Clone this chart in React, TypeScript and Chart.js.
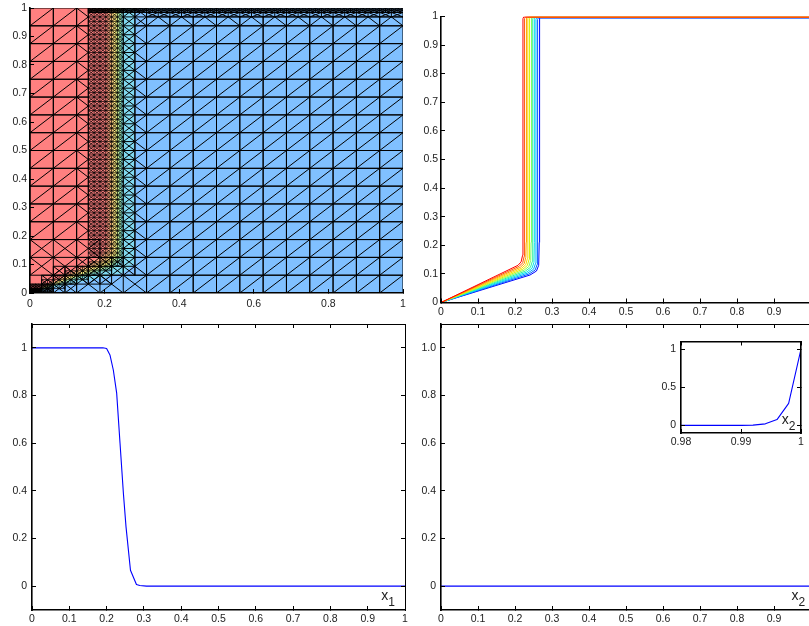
import React, { useEffect, useRef } from "react";
import { Chart, registerables } from "chart.js";

Chart.register(...registerables);

const FONT = "'Liberation Sans', Arial, sans-serif";

// ---- Axis ticks ----
const meshXTicks = [0, 0.2, 0.4, 0.6, 0.8, 1];
const meshXLabels = ["0", "0.2", "0.4", "0.6", "0.8", "1"];
const tenthTicks = [0, 0.1, 0.2, 0.3, 0.4, 0.5, 0.6, 0.7, 0.8, 0.9, 1];
const tenthLabels = ["0", "0.1", "0.2", "0.3", "0.4", "0.5", "0.6", "0.7", "0.8", "0.9", "1"];
const clippedXTicks = [0, 0.1, 0.2, 0.3, 0.4, 0.5, 0.6, 0.7, 0.8, 0.9];
const clippedXLabels = ["0", "0.1", "0.2", "0.3", "0.4", "0.5", "0.6", "0.7", "0.8", "0.9"];
const profileYTicks = [0, 0.2, 0.4, 0.6, 0.8, 1];
const profileYLabelsC = ["0", "0.2", "0.4", "0.6", "0.8", "1"];
const profileYLabelsD = ["0", "0.2", "0.4", "0.6", "0.8", "1.0"];
const insetXTicks = [0.98, 0.99, 1];
const insetXLabels = ["0.98", "0.99", "1"];
const insetYTicks = [0, 0.5, 1];
const insetYLabels = ["0", "0.5", "1"];

// ---- Profile along x1 ----
const profileX1 = [0, 0.19, 0.2, 0.209, 0.218, 0.227, 0.236, 0.245, 0.252, 0.264, 0.28, 0.289, 0.307, 1];
const profileU1 = [1, 1, 0.997, 0.97, 0.907, 0.81, 0.6, 0.39, 0.25, 0.067, 0.007, 0.003, 0, 0];

// ---- Profile along x2 ----
const profileX2 = [0, 1];
const profileU2 = [0, 0];
const insetX = [0.98, 0.99, 0.992, 0.99406, 0.996, 0.99794, 1];
const insetU = [0, 0, 0.003, 0.02, 0.076, 0.289, 1];

// ---- Level curves: one entry per level, red to blue ----
const levelColors = ["#ff0000", "#ff5a00", "#ffa000", "#ffd800", "#d8f000", "#80ff60", "#30f0a0", "#00e8e8", "#00b0ff", "#0060ff", "#0000ff"];
const levelLowX = [0.208, 0.2113, 0.2146, 0.2179, 0.2212, 0.2245, 0.2278, 0.2311, 0.2344, 0.2377, 0.2405];
const levelLowY = [0.13, 0.1266, 0.1232, 0.1198, 0.1164, 0.113, 0.1096, 0.1062, 0.1028, 0.0994, 0.096];
const levelBendX = [0.2165, 0.2207, 0.2249, 0.2291, 0.2333, 0.2375, 0.2417, 0.2459, 0.2501, 0.2543, 0.258];
const levelBendY = [0.142, 0.1388, 0.1356, 0.1324, 0.1292, 0.126, 0.1228, 0.1196, 0.1164, 0.1132, 0.11];
const levelShoulderX = [0.2205, 0.2249, 0.2293, 0.2337, 0.2381, 0.2425, 0.2469, 0.2513, 0.2557, 0.2601, 0.264];
const levelShoulderY = [0.165, 0.1615, 0.158, 0.1545, 0.151, 0.1475, 0.144, 0.1405, 0.137, 0.1335, 0.13];
const levelRiseX = [0.2215, 0.2259, 0.2303, 0.2347, 0.2391, 0.2435, 0.2479, 0.2523, 0.2567, 0.2611, 0.2655];
const levelTopY = [0.9985, 0.9985, 0.998, 0.998, 0.9975, 0.9975, 0.997, 0.9965, 0.996, 0.9955, 0.995];

// ---- Colour bands of the mesh panel, left to right ----
const bandColors = ["#ff8080", "#ff9a80", "#ffb880", "#ffd880", "#fff080", "#d0f090", "#a0e8b0", "#80e0d8", "#80d8f0", "#80c0ff"];
const bandRiseX = [0, 0.205, 0.212, 0.219, 0.226, 0.232, 0.238, 0.244, 0.25, 0.28];
const bandLowX = [0, 0.185, 0.192, 0.199, 0.205, 0.21, 0.216, 0.222, 0.228, 0.25];
const bandLowY = [1, 0.125, 0.119, 0.113, 0.107, 0.102, 0.097, 0.092, 0.087, 0.07];

// ---- Mesh ----
const coarseLines = [0, 0.0625, 0.125, 0.1875, 0.25, 0.3125, 0.375, 0.4375, 0.5, 0.5625, 0.625, 0.6875, 0.75, 0.8125, 0.875, 0.9375, 1];
// [x0, x1, y0, y1, cell width, cell height] — cells with both diagonals
const patchCoarseX = [
  [0, 0.125, 0.0625, 0.1875, 0.0625, 0.0625],
  [0.125, 0.1875, 0.125, 0.1875, 0.0625, 0.0625],
  [0.125, 0.3125, 0, 0.0625, 0.0625, 0.0625],
];
const patchMedium = [
  [0.25, 0.28125, 0.0625, 1, 0.03125, 0.03125],
  [0.28125, 0.3125, 0.9375, 1, 0.03125, 0.03125],
  [0.03125, 0.0625, 0, 0.0625, 0.03125, 0.03125],
  [0.0625, 0.09375, 0, 0.09375, 0.03125, 0.03125],
  [0.09375, 0.125, 0, 0.09375, 0.03125, 0.03125],
  [0.125, 0.15625, 0.03125, 0.125, 0.03125, 0.03125],
  [0.15625, 0.21875, 0.03125, 0.125, 0.03125, 0.03125],
  [0.21875, 0.25, 0.0625, 0.125, 0.03125, 0.03125],
  [0.3125, 1, 0.96875, 0.984375, 0.03125, 0.015625],
];
const patchFine = [
  [0.15625, 0.25, 0.125, 1, 0.015625, 0.015625],
  [0, 0.03125, 0, 0.03125, 0.015625, 0.015625],
  [0.03125, 0.0625, 0, 0.046875, 0.015625, 0.015625],
  [0.0625, 0.09375, 0.015625, 0.0625, 0.015625, 0.015625],
  [0.09375, 0.125, 0.03125, 0.078125, 0.015625, 0.015625],
  [0.125, 0.15625, 0.046875, 0.09375, 0.015625, 0.015625],
  [0.15625, 0.1875, 0.0625, 0.109375, 0.015625, 0.015625],
  [0.1875, 0.21875, 0.078125, 0.125, 0.015625, 0.015625],
  [0.21875, 0.25, 0.09375, 0.125, 0.015625, 0.015625],
];
const patchDense = [
  [0.25, 1, 0.984375, 1, 0.015625, 0.0078125],
  [0.15625, 0.25, 0.984375, 1, 0.015625, 0.0078125],
];
const patchUltra = [
  [0, 0.03125, 0, 0.015625, 0.00390625, 0.00390625],
  [0, 0.0625, 0, 0.03125, 0.0078125, 0.0078125],
];
// [coarse side x, fine side x, y0, y1] and [x0, x1, coarse side y, fine side y]
const fanColumns = [
  [0.125, 0.15625, 0.1875, 1],
  [0.3125, 0.28125, 0.0625, 0.9375],
];
const fanRows = [[0.3125, 1, 0.9375, 0.96875]];

type Pt = { x: number; y: number };
const gap: Pt = { x: NaN, y: NaN };
const seg = (o: Pt[], x0: number, y0: number, x1: number, y1: number) => {
  o.push({ x: x0, y: y0 }, { x: x1, y: y1 }, gap);
};
const cellsOf = (p: number[], o: Pt[]) => {
  const [x0, x1, y0, y1, hx, hy] = p;
  const nx = Math.round((x1 - x0) / hx);
  const ny = Math.round((y1 - y0) / hy);
  for (let i = 0; i < nx; i++) {
    for (let j = 0; j < ny; j++) {
      const a = x0 + i * hx, b = a + hx, c = y0 + j * hy, d = c + hy;
      seg(o, a, c, b, d);
      seg(o, a, d, b, c);
    }
  }
  for (let i = 0; i <= nx; i++) seg(o, x0 + i * hx, y0, x0 + i * hx, y1);
  for (let j = 0; j <= ny; j++) seg(o, x0, y0 + j * hy, x1, y0 + j * hy);
};
const buildCoarse = (): Pt[] => {
  const o: Pt[] = [];
  const masks = [
    ...patchCoarseX, ...patchMedium, ...patchFine,
    ...fanColumns.map((f) => [Math.min(f[0], f[1]), Math.max(f[0], f[1]), f[2], f[3]]),
    ...fanRows.map((f) => [f[0], f[1], f[2], f[3]]),
  ];
  for (let i = 0; i + 1 < coarseLines.length; i++) {
    for (let j = 0; j + 1 < coarseLines.length; j++) {
      const a = coarseLines[i], b = coarseLines[i + 1], c = coarseLines[j], d = coarseLines[j + 1];
      const hidden = masks.some((m) => a < m[1] - 1e-9 && b > m[0] + 1e-9 && c < m[3] - 1e-9 && d > m[2] + 1e-9);
      if (hidden) continue;
      seg(o, a, c, b, c); seg(o, a, d, b, d); seg(o, a, c, a, d); seg(o, b, c, b, d);
      seg(o, a, c, b, d);
    }
  }
  patchCoarseX.forEach((p) => cellsOf(p, o));
  fanColumns.forEach(([cx, fx, y0, y1]) => {
    seg(o, cx, y0, cx, y1);
    seg(o, fx, y0, fx, y1);
    coarseLines.filter((y) => y >= y0 && y < y1).forEach((y) => {
      seg(o, cx, y, fx, y + 0.03125);
      seg(o, fx, y + 0.03125, cx, y + 0.0625);
      seg(o, cx, y, fx, y);
      seg(o, cx, y + 0.0625, fx, y + 0.0625);
    });
  });
  fanRows.forEach(([x0, x1, cy, fy]) => {
    seg(o, x0, cy, x1, cy);
    seg(o, x0, fy, x1, fy);
    coarseLines.filter((x) => x >= x0 && x < x1).forEach((x) => {
      seg(o, x, cy, x + 0.03125, fy);
      seg(o, x + 0.03125, fy, x + 0.0625, cy);
      seg(o, x, cy, x, fy);
      seg(o, x + 0.0625, cy, x + 0.0625, fy);
    });
  });
  return o;
};
const buildPatches = (list: number[][]): Pt[] => {
  const o: Pt[] = [];
  list.forEach((p) => cellsOf(p, o));
  return o;
};

const zip = (xs: number[], ys: number[]): Pt[] => xs.map((x, i) => ({ x, y: ys[i] }));

const levelPath = (i: number): Pt[] => [
  { x: 0, y: 0 },
  { x: levelLowX[i], y: levelLowY[i] },
  { x: levelBendX[i], y: levelBendY[i] },
  { x: levelShoulderX[i], y: levelShoulderY[i] },
  { x: levelRiseX[i], y: 0.21 },
  { x: levelRiseX[i], y: levelTopY[i] - 0.006 },
  { x: levelRiseX[i] + 0.002, y: levelTopY[i] },
  { x: 1, y: levelTopY[i] },
];
const bandPath = (i: number): Pt[] =>
  i === 0
    ? [{ x: 0, y: 1 }, { x: 1, y: 1 }]
    : [
        { x: 0, y: 0 },
        { x: bandLowX[i], y: bandLowY[i] },
        { x: bandRiseX[i], y: bandLowY[i] + 0.035 },
        { x: bandRiseX[i], y: 1 },
        { x: 1, y: 1 },
      ];

type AxisSpec = { ticks: number[]; labels: string[]; min: number; max: number; size: number; pad: number; width?: number };

const clearPadding = (s: any) => {
  s.paddingTop = 0; s.paddingBottom = 0; s.paddingLeft = 0; s.paddingRight = 0;
};
const axis = (position: string, a: AxisSpec) => ({
  type: "linear",
  position,
  min: a.min,
  max: a.max,
  afterBuildTicks: (s: any) => { s.ticks = a.ticks.map((value) => ({ value })); },
  afterFit: (s: any) => {
    if (position === "left") s.width = a.size; else s.height = a.size;
    clearPadding(s);
  },
  grid: { drawOnChartArea: false, drawTicks: true, tickLength: -4, tickColor: "#000", tickWidth: 1, color: "#000", z: 1 },
  border: { color: "#000", width: a.width ?? 1.6, z: 1 },
  ticks: {
    autoSkip: false, maxRotation: 0, minRotation: 0, color: "#222", padding: a.pad,
    font: { family: FONT, size: 10.5 },
    callback: (_v: any, i: number) => a.labels[i],
  },
});
const frameAxis = (position: string, min: number, max: number, ticks: number[], width: number) => ({
  type: "linear",
  position,
  min,
  max,
  afterBuildTicks: (s: any) => { s.ticks = ticks.map((value) => ({ value })); },
  afterFit: (s: any) => {
    if (position === "right") s.width = 0; else s.height = 0;
    clearPadding(s);
  },
  grid: { drawOnChartArea: false, drawTicks: true, tickLength: -4, tickColor: "#000", tickWidth: 1, color: "#000", z: 1 },
  border: { color: "#000", width, z: 1 },
  ticks: { display: false, autoSkip: false },
});

const lineSet = (data: Pt[], color: string, width: number) => ({
  data, borderColor: color, borderWidth: width, showLine: true, pointRadius: 0, fill: false, tension: 0,
  borderCapStyle: "butt", borderJoinStyle: "round",
});

const subLabel = (name: string, sub: string, xv: number, yv: number) => ({
  id: "subLabel" + sub + xv,
  afterDraw(chart: any) {
    const { ctx, scales } = chart;
    const px = scales.x.getPixelForValue(xv);
    const py = scales.y.getPixelForValue(yv);
    ctx.save();
    ctx.fillStyle = "#222";
    ctx.textBaseline = "alphabetic";
    ctx.textAlign = "left";
    ctx.font = `14px ${FONT}`;
    ctx.fillText(name, px, py);
    ctx.font = `12px ${FONT}`;
    ctx.fillText(sub, px + 7, py + 6);
    ctx.restore();
  },
});

const baseOptions = (padding: any, scales: any) => ({
  responsive: false,
  animation: false,
  devicePixelRatio: 1,
  events: [],
  layout: { padding, autoPadding: false },
  plugins: { legend: { display: false }, tooltip: { enabled: false }, title: { display: false } },
  scales,
});

export default function App() {
  const a = useRef<HTMLCanvasElement>(null);
  const b = useRef<HTMLCanvasElement>(null);
  const c = useRef<HTMLCanvasElement>(null);
  const d = useRef<HTMLCanvasElement>(null);
  const e = useRef<HTMLCanvasElement>(null);

  useEffect(() => {
    const bands = bandColors
      .map((color, i) => ({
        data: bandPath(i), borderWidth: 0, borderColor: color, backgroundColor: color,
        showLine: true, pointRadius: 0, fill: "start", tension: 0,
      }))
      .reverse();
    const charts = [
      new Chart(a.current as any, {
        type: "scatter",
        data: {
          datasets: [
            lineSet(buildPatches(patchDense), "#000", 1),
            lineSet(buildPatches(patchUltra), "#000", 0.7),
            lineSet(buildPatches(patchFine), "#000", 0.75),
            lineSet(buildPatches(patchMedium), "#000", 1),
            lineSet(buildCoarse(), "#000", 1),
            ...bands,
          ],
        } as any,
        options: baseOptions({ left: 0, top: 8, right: 17, bottom: 0 }, {
          x: axis("bottom", { ticks: meshXTicks, labels: meshXLabels, min: 0, max: 1, size: 27, pad: 9 }),
          y: axis("left", { ticks: tenthTicks, labels: tenthLabels, min: 0, max: 1, size: 30, pad: 7 }),
        }) as any,
      }),
      new Chart(b.current as any, {
        type: "scatter",
        data: { datasets: levelColors.map((color, i) => lineSet(levelPath(i), color, 1)) } as any,
        options: baseOptions({ left: 0, top: 16.5, right: 21, bottom: 0 }, {
          x: axis("bottom", { ticks: clippedXTicks, labels: clippedXLabels, min: 0, max: 1, size: 19.5, pad: 7 }),
          y: axis("left", { ticks: tenthTicks, labels: tenthLabels, min: 0, max: 1, size: 29, pad: 7 }),
        }) as any,
      }),
      new Chart(c.current as any, {
        type: "scatter",
        data: { datasets: [lineSet(zip(profileX1, profileU1), "#0000ff", 1.1)] } as any,
        options: baseOptions({ left: 0, top: 8, right: 15, bottom: 0 }, {
          x: axis("bottom", { ticks: tenthTicks, labels: tenthLabels, min: 0, max: 1, size: 16, pad: 7 }),
          y: axis("left", { ticks: profileYTicks, labels: profileYLabelsC, min: -0.1, max: 1.1, size: 32, pad: 9 }),
          xTop: frameAxis("top", 0, 1, tenthTicks, 1),
          yRight: frameAxis("right", -0.1, 1.1, profileYTicks, 1),
        }) as any,
        plugins: [subLabel("x", "1", 0.936, -0.059)],
      }),
      new Chart(d.current as any, {
        type: "scatter",
        data: { datasets: [lineSet(zip(profileX2, profileU2), "#0000ff", 1.1)] } as any,
        options: baseOptions({ left: 0, top: 8, right: 21, bottom: 0 }, {
          x: axis("bottom", { ticks: clippedXTicks, labels: clippedXLabels, min: 0, max: 1, size: 16, pad: 7 }),
          y: axis("left", { ticks: profileYTicks, labels: profileYLabelsD, min: -0.1, max: 1.1, size: 29, pad: 9 }),
          xTop: frameAxis("top", 0, 1, clippedXTicks, 1),
        }) as any,
        plugins: [subLabel("x", "2", 0.9476, -0.059)],
      }),
      new Chart(e.current as any, {
        type: "scatter",
        data: { datasets: [lineSet(zip(insetX, insetU), "#0000ff", 1.1)] } as any,
        options: baseOptions({ left: 0, top: 11.5, right: 8, bottom: 0 }, {
          x: axis("bottom", { ticks: insetXTicks, labels: insetXLabels, min: 0.98, max: 1, size: 22, pad: 7 }),
          y: axis("left", { ticks: insetYTicks, labels: insetYLabels, min: -0.1, max: 1.1, size: 31, pad: 9 }),
          xTop: frameAxis("top", 0.98, 1, insetXTicks, 1.6),
          yRight: frameAxis("right", -0.1, 1.1, insetYTicks, 1.6),
        }) as any,
        plugins: [subLabel("x", "2", 0.9968, 0.013)],
      }),
    ];
    return () => charts.forEach((ch) => ch.destroy());
  }, []);

  const place = (left: number, top: number): React.CSSProperties => ({ position: "absolute", left, top, display: "block" });
  return (
    <div style={{ position: "fixed", left: 0, top: 0, width: 809, height: 626, overflow: "hidden", background: "#fff" }}>
      <canvas ref={a} width={420} height={320} style={place(0, 0)} />
      <canvas ref={b} width={420} height={322} style={place(412, 0)} />
      <canvas ref={c} width={420} height={310} style={place(0, 316)} />
      <canvas ref={d} width={420} height={310} style={place(412, 316)} />
      <canvas ref={e} width={159} height={125} style={place(650, 330)} />
    </div>
  );
}
